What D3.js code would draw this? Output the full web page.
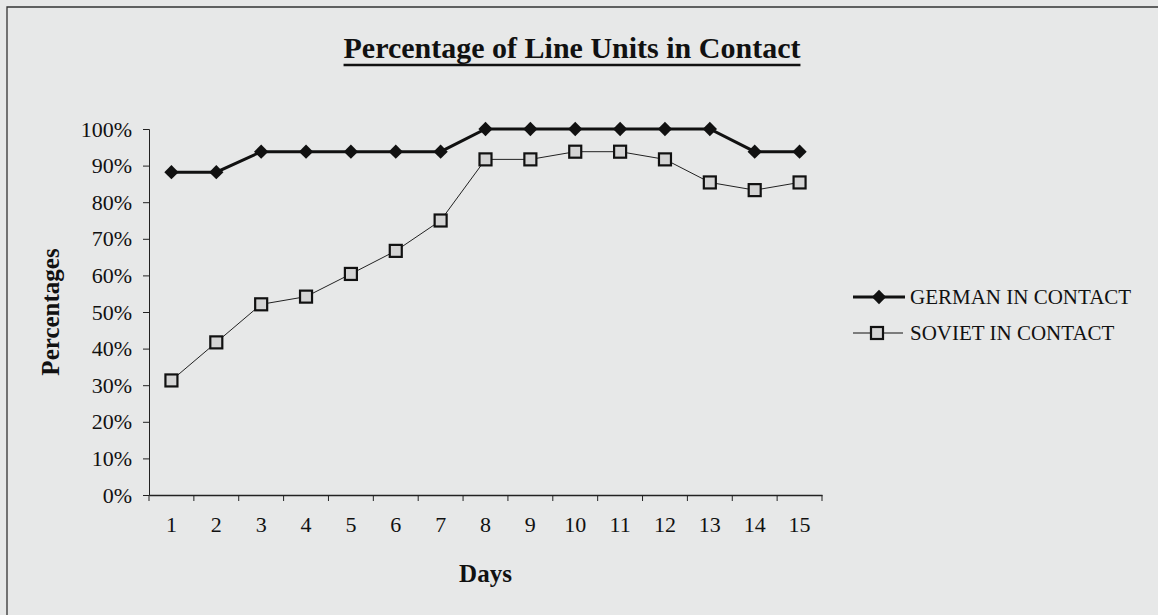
<!DOCTYPE html>
<html>
<head>
<meta charset="utf-8">
<script src="https://cdn.jsdelivr.net/npm/d3@7/dist/d3.min.js"></script>
<style>
  body { margin: 0; background: #e7e8e8; }
  svg text { font-family: "Liberation Serif", "Times New Roman", serif; fill: #111; }
</style>
</head>
<body>
<script>
const days = d3.range(1, 16);
const german = [88.2, 88.2, 93.8, 93.8, 93.8, 93.8, 93.8, 100, 100, 100, 100, 100, 100, 93.8, 93.8];
const soviet = [31.3, 41.7, 52.1, 54.2, 60.4, 66.7, 75.0, 91.7, 91.7, 93.8, 93.8, 91.7, 85.4, 83.3, 85.4];
const yTicks = d3.range(0, 101, 10);
const seriesNames = ["GERMAN IN CONTACT", "SOVIET IN CONTACT"];

const width = 1158, height = 615;
const plot = { left: 149, right: 822, top: 129, bottom: 495 };

const svg = d3.select("body").append("svg")
  .attr("width", width)
  .attr("height", height);

// frame (only top and left edges are in view)
svg.append("path")
  .attr("d", "M7,615V7H1158")
  .attr("fill", "none")
  .attr("stroke", "#333")
  .attr("stroke-width", 1.3);

const x = d3.scaleBand().domain(days).range([plot.left, plot.right]);
const xEdge = d3.scaleLinear().domain([0, days.length]).range([plot.left, plot.right]);
const y = d3.scaleLinear().domain([0, 100]).range([plot.bottom, plot.top]);
const cx = d => x(d) + x.bandwidth() / 2;

// title
const title = svg.append("text")
  .attr("x", 572).attr("y", 58)
  .attr("text-anchor", "middle")
  .style("font-size", "30px").style("font-weight", "bold")
  .text("Percentage of Line Units in Contact");
const tb = title.node().getBBox();
svg.append("line")
  .attr("x1", tb.x).attr("x2", tb.x + tb.width)
  .attr("y1", 65).attr("y2", 65)
  .attr("stroke", "#111").attr("stroke-width", 2.5);

// y axis
const yAxis = svg.append("g")
  .attr("transform", `translate(${plot.left},0)`)
  .call(d3.axisLeft(y).tickValues(yTicks).tickSize(6).tickPadding(11).tickFormat(d => d + "%"));
yAxis.selectAll("text").style("font-size", "22px");
yAxis.selectAll("line, path").attr("stroke", "#222");

// x axis: labels at band centers, ticks at band edges
const xAxis = svg.append("g")
  .attr("transform", `translate(0,${plot.bottom})`)
  .call(d3.axisBottom(x).tickSize(0).tickPadding(21));
xAxis.selectAll("text").style("font-size", "22px");
xAxis.select(".domain").attr("stroke", "#222").attr("stroke-width", 1.5);
svg.append("g")
  .attr("transform", `translate(0,${plot.bottom})`)
  .selectAll("line")
  .data(d3.range(0, days.length + 1))
  .join("line")
  .attr("x1", d => xEdge(d)).attr("x2", d => xEdge(d))
  .attr("y1", 0).attr("y2", 6)
  .attr("stroke", "#222");

// axis titles
svg.append("text")
  .attr("transform", `translate(59,${(plot.top + plot.bottom) / 2}) rotate(-90)`)
  .attr("text-anchor", "middle")
  .style("font-size", "25px").style("font-weight", "bold")
  .text("Percentages");
svg.append("text")
  .attr("x", (plot.left + plot.right) / 2).attr("y", 582)
  .attr("text-anchor", "middle")
  .style("font-size", "25px").style("font-weight", "bold")
  .text("Days");

// lines
const line = d3.line().x((d, i) => cx(days[i])).y(d => y(d));
svg.append("path").datum(soviet)
  .attr("d", line).attr("fill", "none")
  .attr("stroke", "#222").attr("stroke-width", 1);
svg.append("path").datum(german)
  .attr("d", line).attr("fill", "none")
  .attr("stroke", "#111").attr("stroke-width", 3);

const diamond = d3.symbol().type(d3.symbolDiamond2).size(130);
svg.append("g").selectAll("path")
  .data(german)
  .join("path")
  .attr("d", diamond)
  .attr("transform", (d, i) => `translate(${cx(days[i])},${y(d)})`)
  .attr("fill", "#111");

svg.append("g").selectAll("rect")
  .data(soviet)
  .join("rect")
  .attr("x", (d, i) => cx(days[i]) - 6)
  .attr("y", d => y(d) - 6)
  .attr("width", 12).attr("height", 12)
  .attr("fill", "#d4d4d4")
  .attr("stroke", "#111").attr("stroke-width", 2.2);

// legend
const legend = svg.append("g").attr("transform", "translate(853,297)");
legend.append("line").attr("x1", 0).attr("x2", 52).attr("stroke", "#111").attr("stroke-width", 3);
legend.append("path").attr("d", diamond).attr("transform", "translate(26,0)").attr("fill", "#111");
legend.append("text").attr("x", 57).attr("y", 7).style("font-size", "21px").text(seriesNames[0]);

const legend2 = svg.append("g").attr("transform", "translate(853,333)");
legend2.append("line").attr("x1", 0).attr("x2", 50).attr("stroke", "#111").attr("stroke-width", 1);
legend2.append("rect").attr("x", 18).attr("y", -6).attr("width", 12).attr("height", 12)
  .attr("fill", "#d4d4d4").attr("stroke", "#111").attr("stroke-width", 2.2);
legend2.append("text").attr("x", 57).attr("y", 7).style("font-size", "21px").text(seriesNames[1]);
</script>
</body>
</html>
